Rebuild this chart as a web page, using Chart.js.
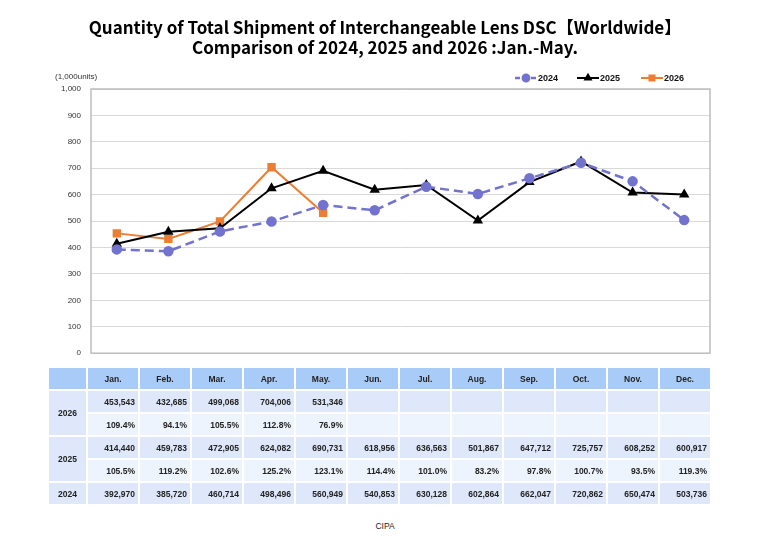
<!DOCTYPE html>
<html>
<head>
<meta charset="utf-8">
<script src="https://cdn.jsdelivr.net/npm/chart.js@4.4.1/dist/chart.umd.min.js"></script>
<style>
  body { margin: 0; background: #fff; width: 770px; height: 540px; position: relative; overflow: hidden; }
  #titulo { position: absolute; left: 0; top: 17px; width: 770px; text-align: center;
    font-family: "Noto Sans CJK JP", "Noto Sans", sans-serif; font-weight: bold; font-size: 17px; line-height: 20px; color: #000; }
  #unidade { position: absolute; left: 55px; top: 72px; font-family: "Liberation Sans", sans-serif; font-size: 8px; color: #333; }
  #grafico { position: absolute; left: 0; top: 0; }
  #tabela { position: absolute; left: 47px; top: 366px; border-collapse: separate; border-spacing: 2px 2px;
    font-family: "Liberation Sans", sans-serif; font-size: 8.5px; font-weight: bold; color: #222; }
  #tabela td { height: 21px; padding: 0 3px 0 0; text-align: right; background: #dfe8fb; }
  #tabela td.cab { background: #a9cbf7; text-align: center; padding: 0; }
  #tabela td.ano { text-align: center; padding: 0; width: 37px; font-size: 8.5px; }
  #tabela td.pct { background: #eef4fd; }
  #tabela td.mes { width: 47px; }
  #fonte { position: absolute; left: 0; top: 521px; width: 770px; text-align: center;
    font-family: "Liberation Sans", sans-serif; font-size: 8.5px; color: #222; }
</style>
</head>
<body>
<canvas id="grafico" width="770" height="368"></canvas>
<div id="titulo">Quantity of Total Shipment of Interchangeable Lens DSC【Worldwide】<br>Comparison of 2024, 2025 and 2026 :Jan.-May.</div>
<div id="unidade">(1,000units)</div>
<table id="tabela"></table>
<div id="fonte">CIPA</div>
<script>
const meses = ['Jan.', 'Feb.', 'Mar.', 'Apr.', 'May.', 'Jun.', 'Jul.', 'Aug.', 'Sep.', 'Oct.', 'Nov.', 'Dec.'];

const vendas2024 = [392970, 385720, 460714, 498496, 560949, 540853, 630128, 602864, 662047, 720862, 650474, 503736];
const vendas2025 = [414440, 459783, 472905, 624082, 690731, 618956, 636563, 501867, 647712, 725757, 608252, 600917];
const vendas2026 = [453543, 432685, 499068, 704006, 531346];

const pct2025 = ['105.5%', '119.2%', '102.6%', '125.2%', '123.1%', '114.4%', '101.0%', '83.2%', '97.8%', '100.7%', '93.5%', '119.3%'];
const pct2026 = ['109.4%', '94.1%', '105.5%', '112.8%', '76.9%'];

const yTicks = [0, 100, 200, 300, 400, 500, 600, 700, 800, 900, 1000];

const emMil = arr => arr.map(v => v / 1000);
const fmt = v => v.toLocaleString('en-US');

// legenda com linha + marcador
const legendaPlugin = {
  id: 'legenda',
  afterDraw(chart) {
    const ctx = chart.ctx;
    const posicoes = [515, 577, 641];
    const y = 78;
    ctx.save();
    chart.data.datasets.forEach((ds, i) => {
      const x = posicoes[i];
      ctx.strokeStyle = ds.borderColor;
      ctx.lineWidth = ds.borderWidth;
      ctx.setLineDash(ds.borderDash ? [5, 3] : []);
      ctx.beginPath();
      ctx.moveTo(x, y);
      ctx.lineTo(x + 22, y);
      ctx.stroke();
      ctx.setLineDash([]);
      ctx.fillStyle = ds.pointBackgroundColor;
      ctx.strokeStyle = ds.pointBorderColor;
      Chart.helpers.drawPoint(ctx, { pointStyle: ds.pointStyle, radius: ds.pointRadius * 0.8, borderWidth: 1 }, x + 11, y);
      ctx.fillStyle = '#111';
      ctx.font = 'bold 9px "Liberation Sans", sans-serif';
      ctx.textBaseline = 'middle';
      ctx.fillText(ds.label, x + 23, y + 0.5);
    });
    ctx.restore();
  }
};

const bordaPlugin = {
  id: 'borda',
  beforeDatasetsDraw(chart) {
    const a = chart.chartArea;
    const ctx = chart.ctx;
    ctx.save();
    ctx.strokeStyle = '#bdbdbd';
    ctx.lineWidth = 1.5;
    ctx.strokeRect(a.left, a.top, a.right - a.left, a.bottom - a.top);
    ctx.restore();
  }
};

new Chart(document.getElementById('grafico'), {
  type: 'line',
  data: {
    labels: meses,
    datasets: [{
      label: '2024',
      data: emMil(vendas2024),
      borderColor: '#7272cf',
      backgroundColor: '#7272cf',
      pointBackgroundColor: '#7272cf',
      pointBorderColor: '#7272cf',
      borderWidth: 2.5,
      borderDash: [9, 5],
      pointStyle: 'circle',
      pointRadius: 4,
      tension: 0
    }, {
      label: '2025',
      data: emMil(vendas2025),
      borderColor: '#000',
      backgroundColor: '#000',
      pointBackgroundColor: '#000',
      pointBorderColor: '#000',
      borderWidth: 2,
      pointStyle: 'triangle',
      pointRadius: 4,
      tension: 0
    }, {
      label: '2026',
      data: emMil(vendas2026),
      borderColor: '#ed7d31',
      backgroundColor: '#ed7d31',
      pointBackgroundColor: '#ed7d31',
      pointBorderColor: '#ed7d31',
      borderWidth: 2,
      pointStyle: 'rect',
      pointRadius: 4.5,
      tension: 0
    }]
  },
  options: {
    responsive: false,
    animation: false,
    layout: { padding: { top: 89, left: 0, right: 60, bottom: 3 } },
    plugins: {
      legend: { display: false },
      tooltip: { enabled: false }
    },
    scales: {
      x: {
        offset: true,
        grid: { display: false, drawTicks: false },
        border: { display: false },
        ticks: { display: false },
        afterFit: s => { s.height = 0; }
      },
      y: {
        min: 0,
        max: 1000,
        afterFit: s => { s.width = 91; },
        afterBuildTicks: s => { s.ticks = yTicks.map(v => ({ value: v })); },
        grid: { color: '#d9d9d9', lineWidth: 1, drawTicks: false },
        border: { display: false },
        ticks: {
          padding: 10,
          color: '#333',
          font: { family: '"Liberation Sans", sans-serif', size: 8 },
          callback: v => fmt(v)
        }
      }
    }
  },
  plugins: [bordaPlugin, legendaPlugin]
});

// tabela de dados
const tabela = document.getElementById('tabela');
let html = '<tr><td class="cab ano"></td>' + meses.map(m => '<td class="cab mes">' + m + '</td>').join('') + '</tr>';
const linha = (vals, classe) => meses.map((m, i) => '<td class="' + classe + '">' + (vals[i] !== undefined ? vals[i] : '') + '</td>').join('');
html += '<tr><td class="ano" rowspan="2">2026</td>' + linha(vendas2026.map(fmt), 'mes') + '</tr>';
html += '<tr>' + linha(pct2026, 'pct') + '</tr>';
html += '<tr><td class="ano" rowspan="2">2025</td>' + linha(vendas2025.map(fmt), 'mes') + '</tr>';
html += '<tr>' + linha(pct2025, 'pct') + '</tr>';
html += '<tr><td class="ano">2024</td>' + linha(vendas2024.map(fmt), 'mes') + '</tr>';
tabela.innerHTML = html;
</script>
</body>
</html>
